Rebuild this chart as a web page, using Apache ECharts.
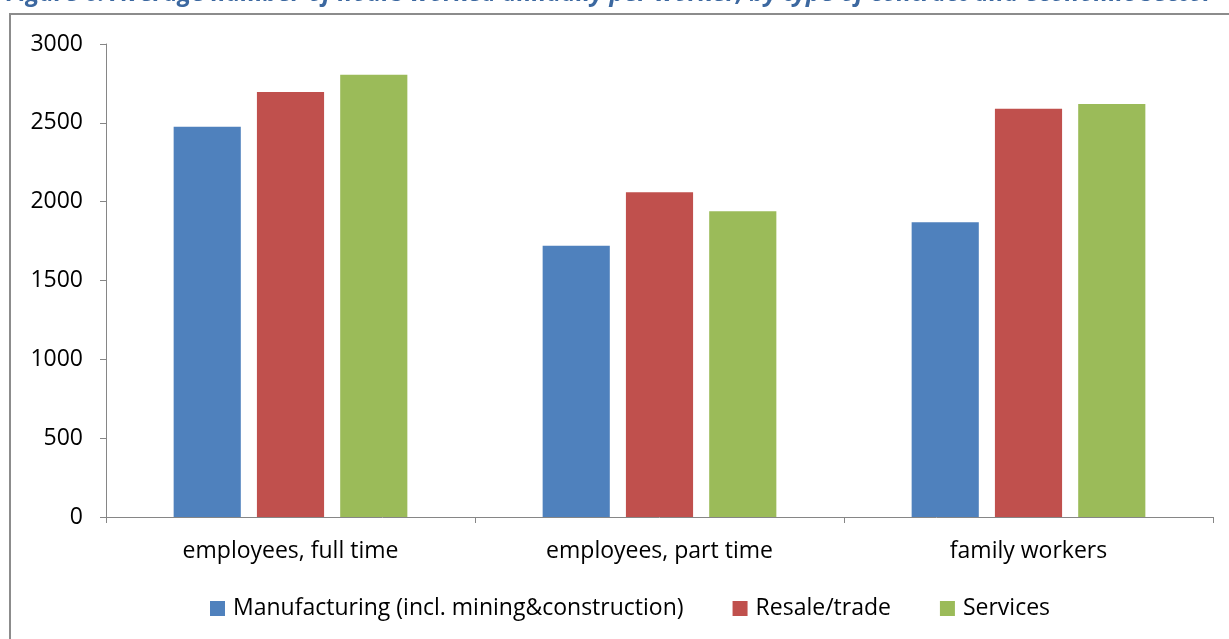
<!DOCTYPE html>
<html><head><meta charset="utf-8">
<script src="https://cdn.jsdelivr.net/npm/echarts@6/dist/echarts.min.js"></script>
<style>html,body{margin:0;padding:0;background:#fff;overflow:hidden}#c{width:1229px;height:639px}</style>
</head><body><div id="c"></div>
<script>
const categories = ['employees, full time', 'employees, part time', 'family workers'];
const manufacturing = [2475, 1720, 1870];
const resale = [2695, 2060, 2590];
const services = [2805, 1940, 2620];
const seriesNames = ['Manufacturing (incl. mining&construction)', 'Resale/trade', 'Services'];
const titleText = 'Figure 6: Average number of hours worked annually per worker, by type of contract and economic sector';

const chart = echarts.init(document.getElementById('c'));
const font = '"Open Sans", "Liberation Sans", sans-serif';
const axisCol = '#868686';
chart.setOption({
  animation: false,
  textStyle: { fontFamily: font },
  graphic: [
    { type: 'rect', shape: { x: 10, y: 14, width: 1240, height: 660 }, style: { fill: 'none', stroke: '#8c8c8c', lineWidth: 2 }, z: -1 },
    { type: 'text', left: 6, top: -18, style: { text: titleText, font: 'italic bold 24.5px ' + font, fill: '#3c68a0' } }
  ],
  legend: {
    bottom: 14, left: 205, itemWidth: 15, itemHeight: 15, itemGap: 49,
    icon: 'rect',
    textStyle: { fontSize: 23, color: '#000', fontFamily: font, padding: [0, 0, 0, 3] }
  },
  grid: { left: 106, right: 16, top: 44, bottom: 122 },
  xAxis: {
    type: 'category', data: categories,
    axisLine: { lineStyle: { color: axisCol, width: 1 } },
    axisTick: { show: true, length: 6, lineStyle: { color: axisCol } },
    axisLabel: { fontSize: 23, color: '#000', margin: 23 }
  },
  yAxis: {
    type: 'value', min: 0, max: 3000, interval: 500,
    axisLine: { show: true, lineStyle: { color: axisCol } },
    axisTick: { show: true, length: 6, lineStyle: { color: axisCol } },
    splitLine: { show: false },
    axisLabel: { fontSize: 23, color: '#000', margin: 23, formatter: v => String(v) }
  },
  series: [
    { name: seriesNames[0], type: 'bar', data: manufacturing, itemStyle: { color: '#4f81bd' }, barWidth: '18.2%', barGap: '24%', barCategoryGap: '37%' },
    { name: seriesNames[1], type: 'bar', data: resale, itemStyle: { color: '#c0504d' }, barWidth: '18.2%', barGap: '24%' },
    { name: seriesNames[2], type: 'bar', data: services, itemStyle: { color: '#9bbb59' }, barWidth: '18.2%', barGap: '24%' }
  ]
});
</script></body></html>
